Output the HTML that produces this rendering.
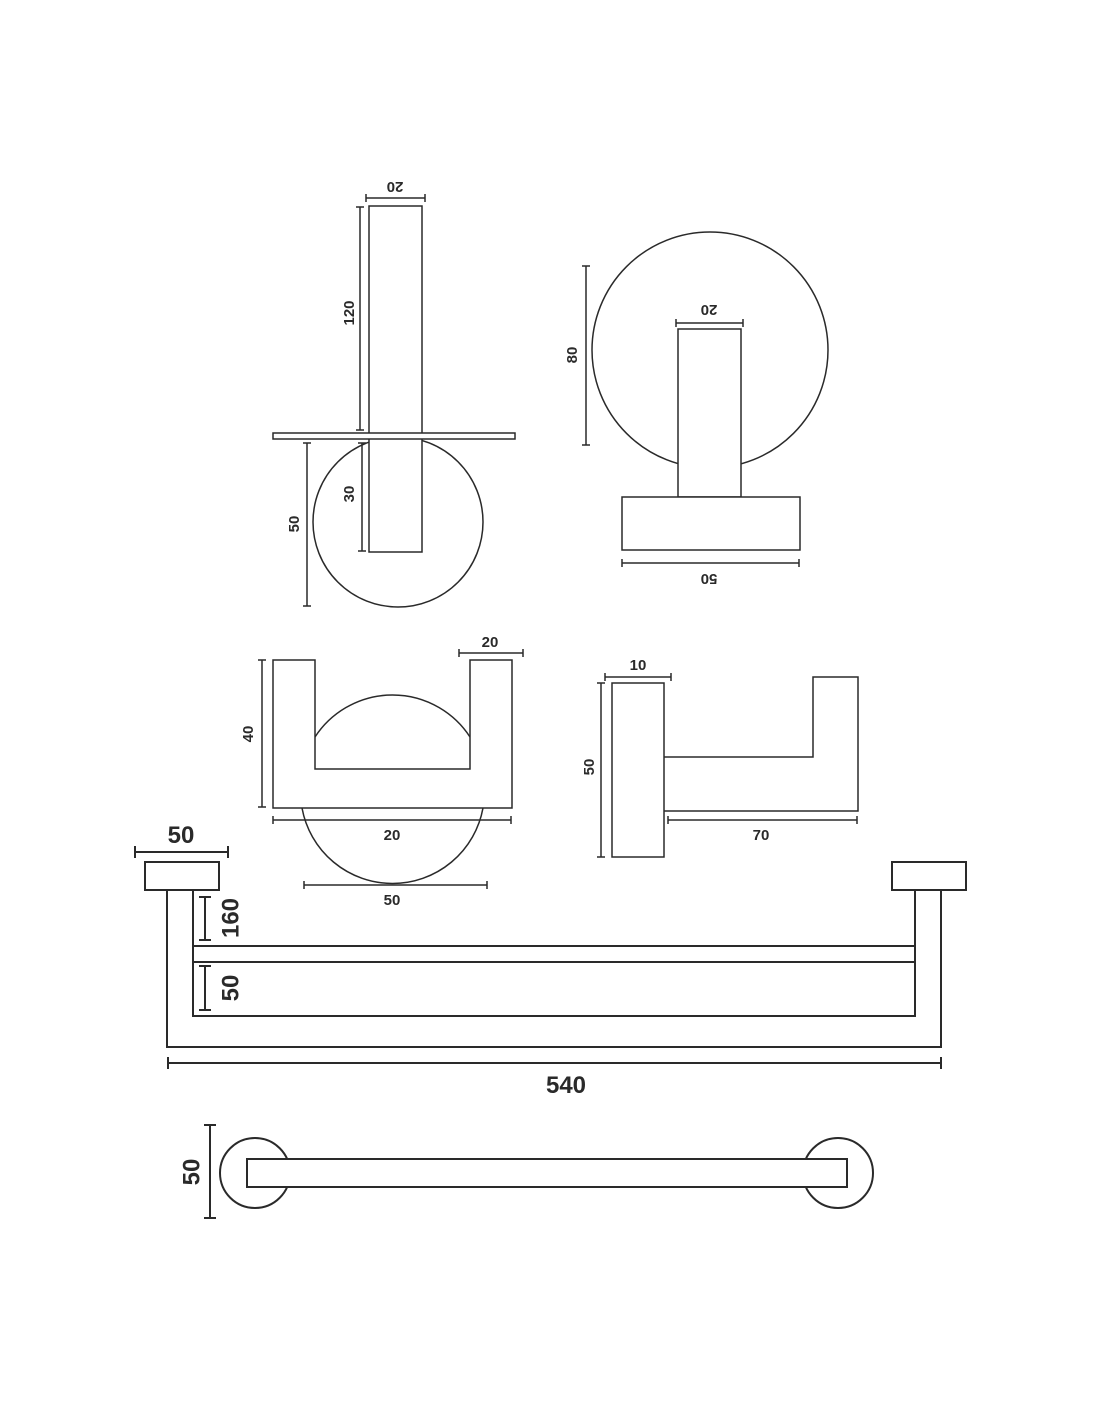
<!DOCTYPE html>
<html><head><meta charset="utf-8"><style>
html,body{margin:0;padding:0;background:#fff}
svg{display:block}
text{font-family:"Liberation Sans",sans-serif;font-weight:bold;fill:#2a2a2a}
</style></head><body>
<svg width="1100" height="1422" viewBox="0 0 1100 1422" xmlns="http://www.w3.org/2000/svg">
<g fill="none" stroke="#2a2a2a" stroke-width="1.5">
<!-- item 1 -->
<circle cx="398" cy="522" r="85"/>
<rect x="369" y="206" width="53" height="346" fill="#fff"/>
<rect x="273" y="433" width="242" height="6" fill="#fff"/>
<path d="M366,198H425M366,194V202M425,194V202"/>
<path d="M360,207V430M356,207H364M356,430H364"/>
<path d="M362,443V551M358,443H366M358,551H366"/>
<path d="M307,443V606M303,443H311M303,606H311"/>
<!-- item 2 -->
<circle cx="710" cy="350" r="118"/>
<rect x="678" y="329" width="63" height="168" fill="#fff"/>
<rect x="622" y="497" width="178" height="53" fill="#fff"/>
<path d="M676,323H743M676,319V327M743,319V327"/>
<path d="M586,266V445M582,266H590M582,445H590"/>
<path d="M622,563H799M622,559V567M799,559V567"/>
<!-- item 3 -->
<path d="M315,737 A92.5,92.5 0 0 1 470,737"/>
<path d="M302,808 A92,92 0 0 0 483,808"/>
<path d="M273,660H315V769H470V660H512V808H273Z" fill="#fff"/>
<path d="M262,660V807M258,660H266M258,807H266"/>
<path d="M459,653H523M459,649V657M523,649V657"/>
<path d="M273,820H511M273,816V824M511,816V824"/>
<path d="M304,885H487M304,881V889M487,881V889"/>
<!-- item 4 -->
<rect x="612" y="683" width="52" height="174"/>
<path d="M664,757H813V677H858V811H664"/>
<path d="M605,677H671M605,673V681M671,673V681"/>
<path d="M601,683V857M597,683H605M597,857H605"/>
<path d="M668,820H857M668,816V824M857,816V824"/>
<!-- towel rail -->
<g stroke-width="2">
<rect x="145" y="862" width="74" height="28"/>
<rect x="892" y="862" width="74" height="28"/>
<path d="M167,890V1047H941V890"/>
<path d="M193,890V1016H915V890"/>
<path d="M193,946H915M193,962H915"/>
<path d="M135,852H228M135,846V858M228,846V858"/>
<path d="M205,897V940M199,897H211M199,940H211"/>
<path d="M205,966V1010M199,966H211M199,1010H211"/>
<path d="M168,1063H941M168,1057V1069M941,1057V1069"/>
<circle cx="255" cy="1173" r="35"/>
<circle cx="838" cy="1173" r="35"/>
<rect x="247" y="1159" width="600" height="28" fill="#fff"/>
<path d="M210,1125V1218M204,1125H216M204,1218H216"/>
</g>
</g>
<g font-size="15" text-anchor="middle">
<text transform="translate(395,186) rotate(180)" dominant-baseline="middle">20</text>
<text transform="translate(350,313) rotate(-90)" dominant-baseline="middle">120</text>
<text transform="translate(350,494) rotate(-90)" dominant-baseline="middle">30</text>
<text transform="translate(295,524) rotate(-90)" dominant-baseline="middle">50</text>
<text transform="translate(709,309) rotate(180)" dominant-baseline="middle">20</text>
<text transform="translate(573,355) rotate(-90)" dominant-baseline="middle">80</text>
<text transform="translate(709,578) rotate(180)" dominant-baseline="middle">50</text>
<text transform="translate(249,734) rotate(-90)" dominant-baseline="middle">40</text>
<text x="490" y="647">20</text>
<text x="392" y="840">20</text>
<text x="392" y="905">50</text>
<text x="638" y="670">10</text>
<text transform="translate(590,767) rotate(-90)" dominant-baseline="middle">50</text>
<text x="761" y="840">70</text>
</g>
<g font-size="24" text-anchor="middle">
<text x="181" y="843">50</text>
<text transform="translate(232,918) rotate(-90)" dominant-baseline="middle">160</text>
<text transform="translate(232,988) rotate(-90)" dominant-baseline="middle">50</text>
<text x="566" y="1093">540</text>
<text transform="translate(193,1172) rotate(-90)" dominant-baseline="middle">50</text>
</g>
</svg>
</body></html>
